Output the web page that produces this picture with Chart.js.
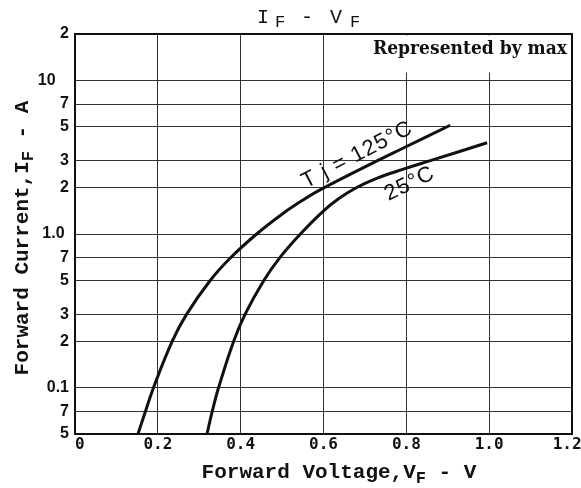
<!DOCTYPE html>
<html><head><meta charset="utf-8">
<script src="https://cdn.jsdelivr.net/npm/chart.js@4/dist/chart.umd.min.js"></script>
<style>html,body{margin:0;padding:0;background:#fff}#wrap{width:581px;height:488px}</style>
</head><body><div id="wrap"><canvas id="c" width="581" height="488"></canvas></div>
<script>
// Tj = 125 °C curve (VF in V, IF in A)
const vf125 = [0.152, 0.170, 0.1895, 0.2346, 0.2693, 0.3269, 0.3756, 0.4386, 0.5005, 0.5484, 0.5939, 0.7303, 0.7904, 0.906];
const if125 = [0.05, 0.07, 0.1, 0.2, 0.3, 0.5, 0.7, 1.0, 1.35, 1.65, 1.95, 3.0, 3.6, 5.1];
// Tj = 25 °C curve
const vf25 = [0.3187, 0.3312, 0.3466, 0.3829, 0.4105, 0.4563, 0.4941, 0.5442, 0.5983, 0.6371, 0.6791, 0.7284, 0.7929, 0.858, 0.995];
const if25 = [0.05, 0.07, 0.1, 0.2, 0.3, 0.5, 0.7, 1.0, 1.4, 1.7, 2.0, 2.3, 2.64, 3.0, 3.92];

const xTicks = [0, 0.2, 0.4, 0.6, 0.8, 1.0, 1.2];
const xTickLabels = [' 0', '0.2', '0.4', '0.6', '0.8', '1.0', '1.2 '];
const yTicks = [0.05, 0.07, 0.1, 0.2, 0.3, 0.5, 0.7, 1, 2, 3, 5, 7, 10, 20];
const yTickLabels = ['5', '7', '0.1', '2', '3', '5', '7', '1.0 ', '2', '3', '5', '7', '10   ', '2'];

const toPts = (xs, ys) => xs.map((v, i) => ({x: v, y: ys[i]}));

function drawSegs(ctx, segs, cx, cy) {
  let w = 0;
  segs.forEach(s => { ctx.font = s.f; s.w = ctx.measureText(s.t).width; w += s.w; });
  let x = cx - w / 2;
  segs.forEach(s => { ctx.font = s.f; ctx.fillText(s.t, x, cy + (s.dy || 0)); x += s.w; });
}

const deco = {
  id: 'deco',
  beforeDatasetsDraw(chart) {
    const {ctx, chartArea: a} = chart;
    ctx.save();
    ctx.fillStyle = '#fff';
    ctx.fillRect(a.right - 204, a.top + 1.5, 203, 37);
    ctx.restore();
  },
  afterDatasetsDraw(chart) {
    const {ctx, chartArea: a, scales: {x, y}} = chart;
    ctx.save();
    ctx.strokeStyle = '#111';
    ctx.lineWidth = 2;
    ctx.strokeRect(a.left, a.top, a.right - a.left, a.bottom - a.top);

    ctx.fillStyle = '#111';
    ctx.textBaseline = 'alphabetic';
    // title
    const tf = '20px "Liberation Mono"', sf = '17px "Liberation Mono"';
    [['I', 263, tf, 0], ['F', 280, sf, 4], ['-', 307, tf, 0], ['V', 336, tf, 0], ['F', 355, sf, 4]].forEach(p => {
      ctx.font = p[2]; ctx.textAlign = 'center'; ctx.fillText(p[0], p[1], 23 + p[3]);
    });
    ctx.textAlign = 'left';

    // Represented by max (bold serif, squeezed to the reference width)
    ctx.save();
    ctx.font = 'bold 19px "DejaVu Serif"';
    const w = ctx.measureText('Represented by max').width;
    const sx = 194 / w;
    ctx.translate(567, 54);
    ctx.scale(sx, 1);
    ctx.textAlign = 'right';
    ctx.fillText('Represented by max', 0, 0);
    ctx.restore();

    // x axis title
    const af = 'bold 21px "Liberation Mono"', asf = 'bold 17px "Liberation Mono"';
    drawSegs(ctx, [{t: 'Forward Voltage,V', f: af}, {t: 'F', f: asf, dy: 5}, {t: ' - V', f: af}], 339, 478);
    // y axis title
    ctx.save();
    ctx.translate(28, 238);
    ctx.rotate(-Math.PI / 2);
    drawSegs(ctx, [{t: 'Forward Current,I', f: af}, {t: 'F', f: asf, dy: 5}, {t: ' - A', f: af}], 0, 0);
    ctx.restore();

    // curve labels
    ctx.font = '22px "Liberation Sans"';
    try { ctx.letterSpacing = '1px'; } catch (e) {}
    ctx.save();
    ctx.translate(x.getPixelForValue(0.558), y.getPixelForValue(1.98));
    ctx.rotate(-27.5 * Math.PI / 180);
    ctx.fillText('T j = 125°C', 0, 0);
    ctx.restore();
    ctx.save();
    ctx.translate(x.getPixelForValue(0.757), y.getPixelForValue(1.64));
    ctx.rotate(-26 * Math.PI / 180);
    ctx.fillText('25°C', 0, 0);
    ctx.restore();
    ctx.restore();
  }
};

new Chart(document.getElementById('c'), {
  type: 'line',
  data: {
    datasets: [
      {label: 'Tj=125°C', data: toPts(vf125, if125), borderColor: '#111', borderWidth: 3, pointRadius: 0, tension: 0.4, fill: false},
      {label: '25°C', data: toPts(vf25, if25), borderColor: '#111', borderWidth: 3, pointRadius: 0, tension: 0.4, fill: false}
    ]
  },
  options: {
    responsive: false,
    animation: false,
    layout: {padding: {left: 0, right: 9, top: 34, bottom: 0}},
    plugins: {legend: {display: false}, tooltip: {enabled: false}, title: {display: false}},
    scales: {
      x: {
        type: 'linear', min: 0, max: 1.2,
        afterBuildTicks: s => { s.ticks = xTicks.map(v => ({value: v})); },
        afterFit: s => { s.height = 54; s.paddingLeft = 0; s.paddingRight = 0; },
        ticks: {autoSkip: false, maxRotation: 0, padding: 1, color: '#111',
          font: {family: '"DejaVu Sans Mono"', size: 16, weight: 'bold'},
          callback: (v, i) => xTickLabels[i]},
        grid: {color: '#333', lineWidth: 1, drawTicks: false},
        border: {display: false}
      },
      y: {
        type: 'logarithmic', min: 0.05, max: 20,
        afterBuildTicks: s => { s.ticks = yTicks.map(v => ({value: v})); },
        afterFit: s => { s.width = 75; s.paddingTop = 0; s.paddingBottom = 0; },
        ticks: {autoSkip: false, padding: 6, color: '#111',
          font: {family: '"Liberation Sans"', size: 16, weight: 'bold'},
          callback: (v, i) => yTickLabels[i]},
        grid: {color: '#333', lineWidth: 1, drawTicks: false},
        border: {display: false}
      }
    }
  },
  plugins: [deco]
});
</script></body></html>
